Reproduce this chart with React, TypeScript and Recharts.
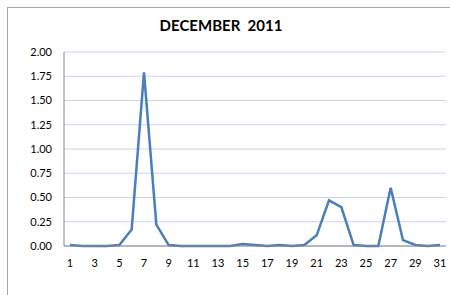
import React from 'react';
import { LineChart, Line, XAxis, YAxis, CartesianGrid } from 'recharts';

const days: number[] = [1,2,3,4,5,6,7,8,9,10,11,12,13,14,15,16,17,18,19,20,21,22,23,24,25,26,27,28,29,30,31];
const rainfall: number[] = [0.01,0,0,0,0.01,0.17,1.79,0.22,0.01,0,0,0,0,0,0.02,0.01,0,0.01,0,0.01,0.11,0.47,0.40,0.01,0,0,0.60,0.06,0.01,0,0.01];
const yTicks: number[] = [0,0.25,0.5,0.75,1,1.25,1.5,1.75,2];
const xTicks: number[] = [1,3,5,7,9,11,13,15,17,19,21,23,25,27,29,31];
const title = 'DECEMBER  2011';

const data = days.map((d, i) => ({ day: d, value: rainfall[i] }));

const font = 'Lato, "Open Sans", sans-serif';

export default function App() {
  return (
    <div style={{ position: 'absolute', left: 0, top: 0, width: 450, height: 295, background: '#fff', overflow: 'hidden' }}>
      <div style={{ position: 'absolute', left: 7, top: 7, width: 460, height: 300, borderTop: '1px solid #a6a6a6', borderLeft: '1px solid #a6a6a6' }} />
      <div style={{ position: 'absolute', left: 0, width: 442, top: 16, textAlign: 'center', fontFamily: font, fontWeight: 700, fontSize: 15, color: '#000', whiteSpace: 'pre' }}>{title}</div>
      <div style={{ position: 'absolute', left: 0, top: 0 }}>
        <LineChart width={450} height={295} data={data} margin={{ top: 52, right: 4, bottom: 0, left: 0 }}>
          <CartesianGrid vertical={false} stroke="#c6d6ee" strokeWidth={1} />
          <XAxis
            dataKey="day"
            ticks={xTicks}
            interval={0}
            height={49}
            padding={{ left: 6, right: 6 }}
            tickLine={false}
            tickSize={0}
            tickMargin={13}
            axisLine={{ stroke: '#868686' }}
            tick={{ fill: '#000', fontSize: 11, fontFamily: font }}
          />
          <YAxis
            width={64}
            domain={[0, 2]}
            ticks={yTicks}
            interval={0}
            tickFormatter={(v: number) => v.toFixed(2)}
            tickLine={false}
            tickSize={0}
            tickMargin={12}
            axisLine={{ stroke: '#868686' }}
            tick={{ fill: '#000', fontSize: 11, fontFamily: font }}
          />
          <Line type="linear" dataKey="value" stroke="#4a7ebb" strokeWidth={2.5} dot={false} isAnimationActive={false} />
        </LineChart>
      </div>
    </div>
  );
}
